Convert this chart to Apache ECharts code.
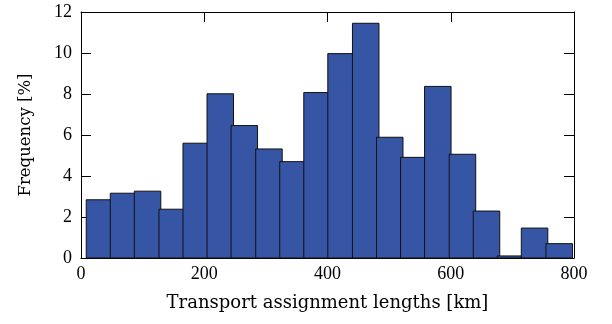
<!DOCTYPE html>
<html>
<head>
<meta charset="utf-8">
<script src="https://cdn.jsdelivr.net/npm/echarts@6/dist/echarts.min.js"></script>
<style>
  html, body { margin: 0; padding: 0; background: #fff; }
  #chart { width: 612px; height: 324px; }
</style>
</head>
<body>
<div id="chart"></div>
<script>
// bin centres [km] and frequency [%]
const binCenters = [30, 69, 108, 148, 187, 226, 265, 305, 344, 383,
                    422, 462, 501, 540, 579, 619, 658, 697, 736, 776]
const frequency = [2.84, 3.16, 3.26, 2.38, 5.6, 8.01, 6.46, 5.32, 4.7, 8.07,
                   9.97, 11.45, 5.89, 4.91, 8.37, 5.06, 2.29, 0.1, 1.46, 0.7]
const xTicks = [0, 200, 400, 600, 800]
const yTicks = [0, 2, 4, 6, 8, 10, 12]

const barWidthKm = 43
const tickFont = '"Liberation Serif", serif'
const nameFont = '"DejaVu Serif", serif'

let chart = echarts.init(document.getElementById('chart'), null, { renderer: 'canvas' })

let seriesData = binCenters.map((c, i) => [c, frequency[i]])

// shared axis style for the boxed plot frame
let lineStyle = { color: '#000', width: 1 }
let tickStyle = { show: true, inside: true, length: 10, lineStyle: lineStyle }

let option = {
  animation: false,
  backgroundColor: '#fff',
  grid: { left: 81, right: 38, top: 12, bottom: 66 },
  xAxis: [{
    type: 'value',
    position: 'bottom',
    min: xTicks[0],
    max: xTicks[xTicks.length - 1],
    interval: 200,
    axisLine: { show: true, onZero: false, lineStyle: lineStyle },
    axisTick: tickStyle,
    splitLine: { show: false },
    axisLabel: { color: '#000', fontFamily: tickFont, fontSize: 18, margin: 7 },
    name: 'Transport assignment lengths [km]',
    nameLocation: 'middle',
    nameGap: 36,
    nameTextStyle: { color: '#000', fontFamily: nameFont, fontSize: 18 }
  }, {
    type: 'value',
    position: 'top',
    min: xTicks[0],
    max: xTicks[xTicks.length - 1],
    interval: 200,
    axisLine: { show: true, onZero: false, lineStyle: lineStyle },
    axisTick: tickStyle,
    splitLine: { show: false },
    axisLabel: { show: false }
  }],
  yAxis: [{
    type: 'value',
    position: 'left',
    min: yTicks[0],
    max: yTicks[yTicks.length - 1],
    interval: 2,
    axisLine: { show: true, onZero: false, lineStyle: lineStyle },
    axisTick: tickStyle,
    splitLine: { show: false },
    axisLabel: { color: '#000', fontFamily: tickFont, fontSize: 18, margin: 9 },
    name: 'Frequency [%]',
    nameLocation: 'middle',
    nameGap: 47,
    nameTextStyle: { color: '#000', fontFamily: nameFont, fontSize: 16.5 }
  }, {
    type: 'value',
    position: 'right',
    min: yTicks[0],
    max: yTicks[yTicks.length - 1],
    interval: 2,
    axisLine: { show: true, onZero: false, lineStyle: lineStyle },
    axisTick: tickStyle,
    splitLine: { show: false },
    axisLabel: { show: false }
  }],
  series: [{
    type: 'custom',
    xAxisIndex: 0,
    yAxisIndex: 0,
    data: seriesData,
    renderItem: function (params, api) {
      let x = api.value(0)
      let y = api.value(1)
      let topLeft = api.coord([x - barWidthKm / 2, y])
      let bottomRight = api.coord([x + barWidthKm / 2, 0])
      return {
        type: 'rect',
        shape: {
          x: topLeft[0],
          y: topLeft[1],
          width: bottomRight[0] - topLeft[0],
          height: bottomRight[1] - topLeft[1]
        },
        style: { fill: '#3755a5', stroke: '#111', lineWidth: 1 }
      }
    }
  }]
}

chart.setOption(option)
</script>
</body>
</html>
